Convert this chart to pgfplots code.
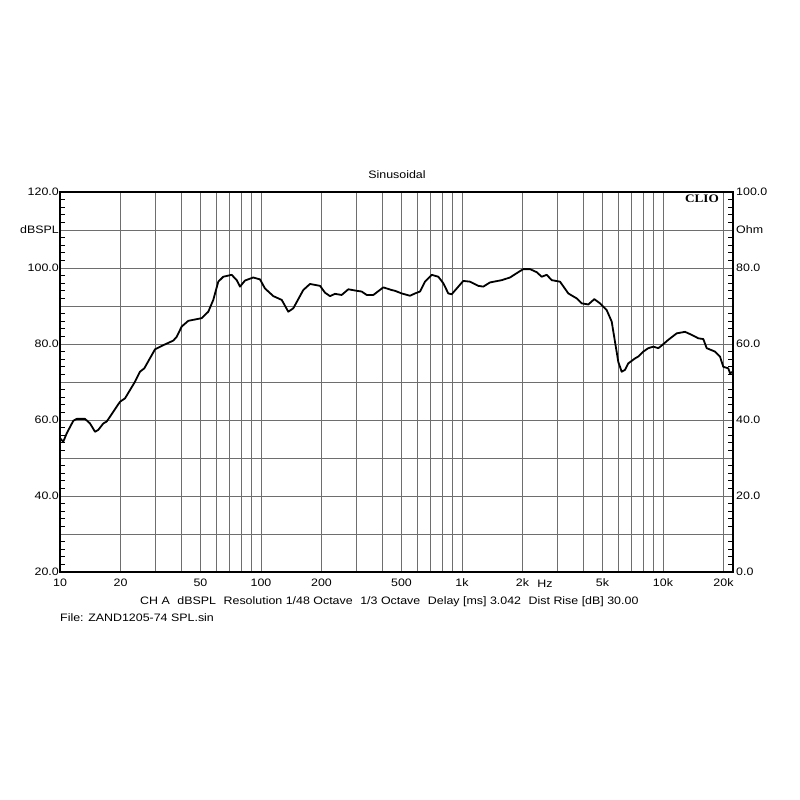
\documentclass[border=0pt]{standalone}
\usepackage{pgfplots}
\pgfplotsset{compat=1.18}
\usepackage{fontspec}
\setmainfont{Liberation Sans}[FakeStretch=1.15]
\newfontfamily\cliofont{Liberation Serif}[FakeStretch=1.15]
\definecolor{gridgray}{RGB}{110,110,110}
\begin{document}
\begin{tikzpicture}[x=1pt,y=1pt]
\useasboundingbox (0,0) rectangle (800,800);
\begin{axis}[
  at={(60pt,228pt)}, anchor=south west,
  scale only axis, width=673pt, height=380pt,
  xmode=log, xmin=10, xmax=22300, ymin=20, ymax=120,
  xtick={10,20,50,100,200,500,1000,2000,5000,10000,20000},
  xticklabels={10,20,50,100,200,500,1k,2k,5k,10k,20k},
  minor xtick={30,40,60,70,80,90,300,400,600,700,800,900,3000,4000,6000,7000,8000,9000},
  ytick={20,30,...,120},
  yticklabels={20.0,,40.0,,60.0,,80.0,,100.0,dBSPL,120.0},
  minor y tick num=4,
  xmajorgrids, xminorgrids, ymajorgrids,
  major grid style={gridgray, line width=0.9pt},
  minor grid style={gridgray, line width=0.9pt},
  x tick style={draw=none},
  tick align=inside,
  major tick length=0pt,
  minor tick length=5pt,
  y tick style={black, line width=0.6pt},
  axis line style={black, line width=1.2pt},
  ticklabel style={font=\fontsize{10.8}{12}\selectfont},
  yticklabel style={inner sep=1pt},
  xticklabel shift=3pt,
  clip=true,
]
\addplot[black, line width=1.8pt, line join=round] coordinates {
(10,55.2) (10.385,54.3) (10.80,56.5) (11.65,59.8) (12.11,60.3) (13.31,60.3)
(14.10,59.1) (14.94,56.9) (15.51,57.4) (16.43,59.1) (17.08,59.6) (19.89,64.8)
(21.06,65.7) (23.62,70.1) (25.00,72.7) (26.27,73.6) (29.70,78.6) (32.07,79.5)
(36.63,80.9) (38.08,81.9) (40.32,84.6) (43.48,86.1) (50.70,86.8) (54.68,88.5)
(57.89,91.6) (61.30,96.4) (64.92,97.7) (71.49,98.2) (75.70,96.8) (78.62,95.1)
(83.25,96.7) (91.54,97.5) (98.86,97.0) (104.7,94.6) (115.2,92.6) (126.8,91.6)
(136.7,88.5) (144.8,89.4) (153.3,91.8) (162.3,94.2) (175.3,95.8) (196.6,95.3)
(208.2,93.5) (220.4,92.6) (233.4,93.2) (252.0,92.9) (271.9,94.4) (299.3,94.0)
(317.0,93.8) (335.7,92.9) (362.2,92.9) (406.0,94.9) (447.0,94.2) (464.2,94.0)
(501.2,93.3) (551.1,92.7) (583.6,93.3) (618.0,93.8) (654.5,96.4) (706.8,98.2)
(762.4,97.7) (807.2,96.0) (854.8,93.3) (888.7,93.1) (941.1,94.6) (1015,96.6)
(1096,96.4) (1205,95.3) (1276,95.1) (1378,96.2) (1576,96.8) (1733,97.5)
(1906,98.9) (2018,99.7) (2180,99.7) (2353,98.9) (2492,97.7) (2639,98.2)
(2795,96.8) (3074,96.4) (3381,93.3) (3721,92.0) (3940,90.7) (4250,90.4)
(4553,91.8) (4860,90.7) (5248,88.9) (5556,85.9) (5770,80.6) (5992,75.3)
(6230,72.7) (6471,73.2) (6720,74.9) (7256,76.2) (7536,76.7) (7980,78.0)
(8451,78.9) (8949,79.3) (9476,78.9) (9852,79.6) (10626,81.1) (11700,82.8)
(12868,83.2) (13893,82.4) (14984,81.5) (15867,81.3) (16499,78.9) (18146,78.0)
(19215,76.7) (19953,74.0) (21129,73.6) (21544,72.3) (22300,72.7)
};
\end{axis}
\begin{axis}[
  at={(60pt,228pt)}, anchor=south west,
  scale only axis, width=673pt, height=380pt,
  xmode=log, xmin=10, xmax=22300, ymin=0, ymax=100,
  axis x line=none, axis y line*=right,
  axis line style={draw=none},
  ytick={0,10,...,100},
  yticklabels={0.0,,20.0,,40.0,,60.0,,80.0,Ohm,100.0},
  y tick style={draw=none},
  ticklabel style={font=\fontsize{10.8}{12}\selectfont},
  yticklabel style={inner sep=1pt, xshift=2pt},
]
\end{axis}
\node[font=\fontsize{10.8}{12}\selectfont] at (397,625) {Sinusoidal};
\node[anchor=east, inner sep=0pt, font=\fontsize{11.5}{12}\selectfont] at (719,601) {\cliofont\bfseries CLIO};
\node[font=\fontsize{10.8}{12}\selectfont] at (545,216) {Hz};
\node[anchor=west, inner sep=0pt, font=\fontsize{10.8}{12}\selectfont] at (140,198) {CH A\hspace{0.7em}dBSPL\hspace{0.7em}Resolution 1/48 Octave\hspace{0.7em}1/3 Octave\hspace{0.7em}Delay [ms] 3.042\hspace{0.7em}Dist Rise [dB] 30.00};
\node[anchor=west, inner sep=0pt, font=\fontsize{10.8}{12}\selectfont] at (60,182) {File: ZAND1205-74 SPL.sin};
\end{tikzpicture}
\end{document}
